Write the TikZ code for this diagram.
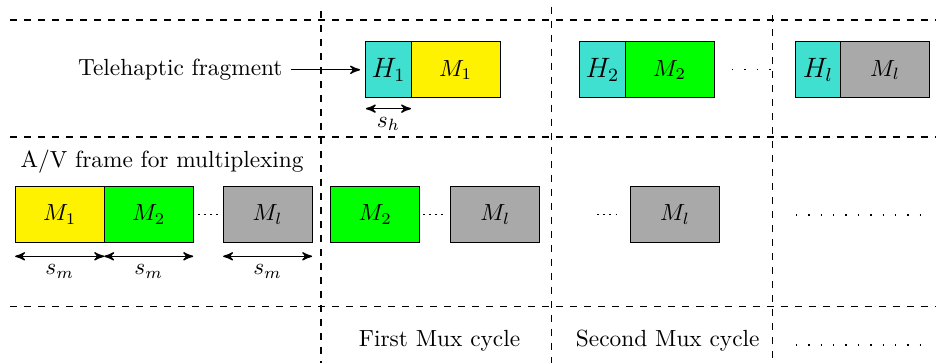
\documentclass[tikz,border=0pt]{standalone}
\usepackage{amsmath, amssymb}
\usepackage{xcolor}
\usetikzlibrary{positioning}
\usetikzlibrary{arrows}

\definecolor{hdrcolor}{RGB}{64,224,208}
\definecolor{mgreen}{RGB}{0,255,0}
\definecolor{mgray}{RGB}{169,169,169}

\tikzset{
    pkt/.style={draw, minimum width=1.34cm, minimum height=0.84cm, inner sep=0pt, outer sep=0pt},
    hdr/.style={pkt, fill=hdrcolor, minimum width=0.68cm, font=\large},
    cyclesep/.style={dashed, line width=0.5pt},
    sparsedots/.style={line width=0.6pt, dash pattern=on 0.6pt off 4.7pt},
    densedots/.style={dotted, line width=0.6pt},
    dimarrow/.style={<->, >=stealth', semithick},
}

\begin{document}
\begin{tikzpicture}
    \useasboundingbox (0,0) rectangle (14.133,-5.464);

    % rows and mux cycles
    \draw[cyclesep] (0.15,-0.301) -- (14.07,-0.301);
    \draw[cyclesep] (0.15,-2.062) -- (14.07,-2.062);
    \draw[cyclesep] (0.15,-4.616) -- (14.07,-4.616);
    \draw[cyclesep] (4.831,-0.166) -- (4.831,-5.464);
    \draw[cyclesep] (8.304,-0.10) -- (8.304,-5.464);
    \draw[cyclesep] (11.627,-0.226) -- (11.627,-5.464);

    % telehaptic fragments
    \node[hdr] (H1) at (5.847,-1.05) {$H_1$};
    \node[pkt, fill=yellow, right=0cm of H1] (M1) {$M_1$};
    \node[hdr, right=1.2cm of M1] (H2) {$H_2$};
    \node[pkt, fill=mgreen, right=0cm of H2] (M2) {$M_2$};
    \node[hdr, right=1.225cm of M2] (Hl) {$H_l$};
    \node[pkt, fill=mgray, right=0cm of Hl] (Ml) {$M_l$};

    \node[left=1.13cm of H1] (tele) {Telehaptic fragment};
    \draw[->, >=stealth', semithick, shorten >=2.5pt] (tele) -- (H1);
    \draw[dimarrow] ([yshift=-4.7pt]H1.south west) -- node[below] {$s_h$} ([yshift=-4.7pt]H1.south east);
    \draw[sparsedots, shorten <=7.7pt, shorten >=6pt] (M2) -- (Hl);

    % A/V frames
    \node (av) at (2.44,-2.44) {A/V frame for multiplexing};
    \node[pkt, fill=yellow] (M1a) at (0.898,-3.23) {$M_1$};
    \node[pkt, fill=mgreen, right=0cm of M1a] (M2a) {$M_2$};
    \node[pkt, fill=mgray, right=0.45cm of M2a] (Mla) {$M_l$};
    \node[pkt, fill=mgreen, right=0.28cm of Mla] (M2b) {$M_2$};
    \node[pkt, fill=mgray, right=0.467cm of M2b] (Mlb) {$M_l$};
    \node[pkt, fill=mgray, right=1.365cm of Mlb] (Mlc) {$M_l$};

    \draw[densedots, shorten <=2.1pt, shorten >=1.8pt] (M2a) -- (Mla);
    \draw[densedots, shorten <=1.5pt, shorten >=2pt] (M2b) -- (Mlb);
    \draw[densedots, shorten >=4.5pt] ([xshift=-0.5cm]Mlc.west) -- (Mlc);

    \draw[dimarrow] ([yshift=-5.9pt]M1a.south west) -- node[below] {$s_m$} ([yshift=-5.9pt]M1a.south east);
    \draw[dimarrow] ([yshift=-5.9pt]M2a.south west) -- node[below] {$s_m$} ([yshift=-5.9pt]M2a.south east);
    \draw[dimarrow] ([yshift=-5.9pt]Mla.south west) -- node[below] {$s_m$} ([yshift=-5.9pt]Mla.south east);

    \draw[sparsedots] (11.98,-3.236) -- (13.87,-3.236);
    \draw[sparsedots] (11.98,-5.193) -- (13.87,-5.193);

    % cycle labels
    \node (first) at (6.615,-5.13) {First Mux cycle};
    \node (second) at (10.05,-5.13) {Second Mux cycle};
\end{tikzpicture}
\end{document}
